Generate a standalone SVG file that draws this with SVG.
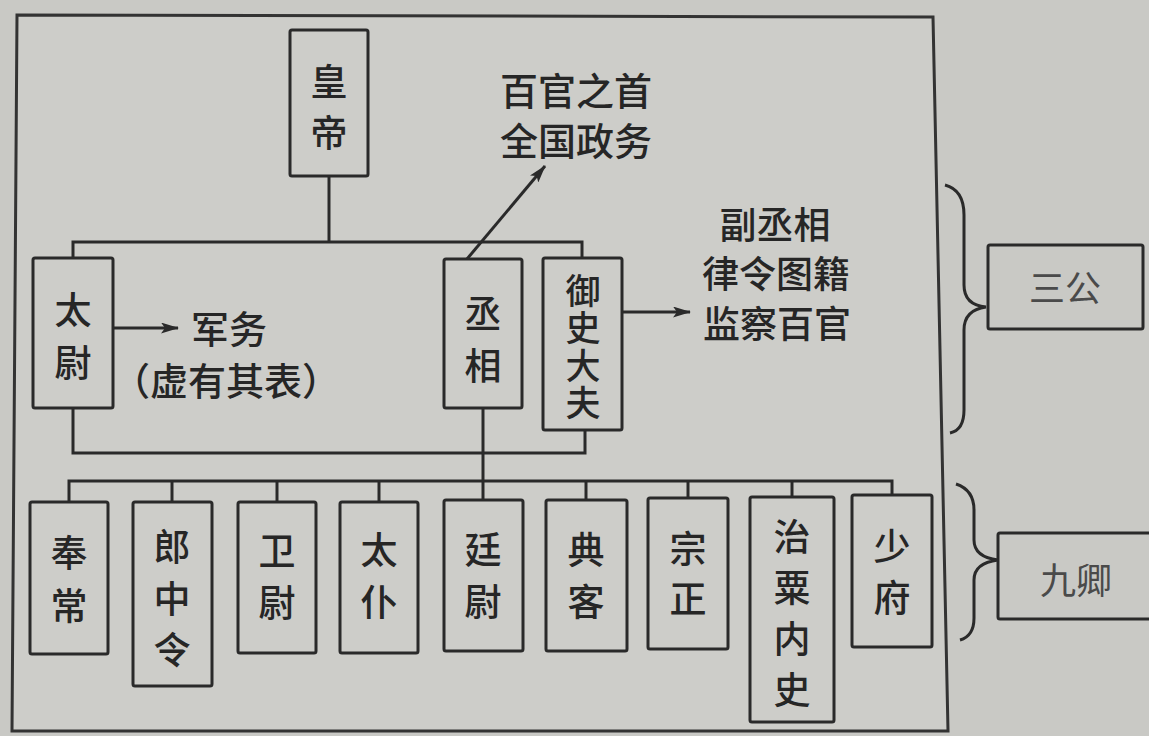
<svg xmlns="http://www.w3.org/2000/svg" width="1149" height="736" viewBox="0 0 1149 736">
<defs>
<style>
.bg{fill:#c9c9c5}
.frame{fill:#cdcdc9;stroke:#333;stroke-width:3}
.box{fill:none;stroke:#2a2a2a;stroke-width:3}
.ln{fill:none;stroke:#2a2a2a;stroke-width:3}
.t{font-family:"Noto Sans CJK SC","Noto Sans CJK JP",sans-serif;font-size:37px;font-weight:500;fill:#262626;text-anchor:middle;dominant-baseline:central}
.tv{font-family:"Noto Sans CJK SC","Noto Sans CJK JP",sans-serif;font-size:35px;font-weight:500;fill:#262626;writing-mode:vertical-rl;letter-spacing:2.5px}
.lbl{font-family:"Noto Sans CJK SC","Noto Sans CJK JP",sans-serif;font-size:38px;font-weight:500;fill:#262626;text-anchor:middle;dominant-baseline:central}
.lbs{font-family:"Noto Sans CJK SC","Noto Sans CJK JP",sans-serif;font-size:37px;font-weight:500;fill:#262626;text-anchor:middle;dominant-baseline:central}
.side{font-family:"Noto Sans CJK SC","Noto Sans CJK JP",sans-serif;font-size:36px;fill:#4a4a4a;text-anchor:middle;dominant-baseline:central}
</style>
<marker id="ah" markerWidth="18" markerHeight="11" refX="17" refY="5.5" orient="auto" markerUnits="userSpaceOnUse">
<path d="M0,0 L18,5.5 L0,11 L4,5.5 Z" fill="#2a2a2a"/>
</marker>
</defs>
<rect class="bg" x="0" y="0" width="1149" height="736"/>
<path class="frame" d="M17,15 L933,17 L948,731 L12,731 Z"/>

<g id="connectors">
<path class="ln" d="M329,176 V242"/>
<path class="ln" d="M73,258 V242 H582 V258"/>
<path class="ln" d="M467,259 L545,166" marker-end="url(#ah)"/>
<path class="ln" d="M622,312 H690" marker-end="url(#ah)"/>
<path class="ln" d="M113,328 H178" marker-end="url(#ah)"/>
<path class="ln" d="M73,408 V453 H585 V430"/>
<path class="ln" d="M483,408 V500"/>
<path class="ln" d="M69,502 V481 H892 V495"/>
<path class="ln" d="M172,481 V502"/>
<path class="ln" d="M277,481 V502"/>
<path class="ln" d="M379,481 V502"/>
<path class="ln" d="M586,481 V500"/>
<path class="ln" d="M688,481 V498"/>
<path class="ln" d="M792,481 V497"/>
<path class="ln" d="M945,185 Q964,190 964,215 V285 Q964,305 986,307 Q964,310 964,330 V410 Q964,430 950,433"/>
<path class="ln" d="M956,484 Q974,490 974,510 V540 Q974,557 998,560 Q974,563 974,580 V618 Q974,636 960,640"/>
</g>

<g id="huangdi"><rect class="box" x="290" y="30" width="78" height="146" rx="2"/>
<text class="t" x="329" y="80">皇</text><text class="t" x="329" y="131">帝</text></g>

<g id="taiwei"><rect class="box" x="33" y="258" width="80" height="150" rx="2"/>
<text class="t" x="73" y="308">太</text><text class="t" x="73" y="361">尉</text></g>

<g id="chengxiang"><rect class="box" x="444" y="259" width="78" height="149" rx="2"/>
<text class="t" x="483" y="312">丞</text><text class="t" x="483" y="364">相</text></g>

<g id="yushidafu"><rect class="box" x="543" y="258" width="79" height="172" rx="2"/>
<text class="tv" x="583" y="273">御史大夫</text></g>

<g id="label-junwu">
<text class="lbl" x="229" y="326">军务</text>
<text class="lbl" x="226" y="378">（虚有其表）</text></g>

<g id="label-baiguan">
<text class="lbl" x="576" y="88">百官之首</text>
<text class="lbl" x="576" y="138">全国政务</text></g>

<g id="label-yushi">
<text class="lbs" x="775" y="223">副丞相</text>
<text class="lbs" x="776" y="272">律令图籍</text>
<text class="lbs" x="777" y="322">监察百官</text></g>

<g id="fengchang"><rect class="box" x="30" y="502" width="78" height="152" rx="2"/>
<text class="t" x="69" y="551">奉</text><text class="t" x="69" y="604">常</text></g>
<g id="langzhongling"><rect class="box" x="133" y="502" width="79" height="184" rx="2"/>
<text class="t" x="172" y="545">郎</text><text class="t" x="172" y="597">中</text><text class="t" x="172" y="648">令</text></g>
<g id="weiwei"><rect class="box" x="238" y="502" width="78" height="151" rx="2"/>
<text class="t" x="277" y="549">卫</text><text class="t" x="277" y="601">尉</text></g>
<g id="taipu"><rect class="box" x="340" y="502" width="78" height="151" rx="2"/>
<text class="t" x="379" y="548">太</text><text class="t" x="379" y="600">仆</text></g>
<g id="tingwei"><rect class="box" x="444" y="500" width="79" height="151" rx="2"/>
<text class="t" x="483" y="548">廷</text><text class="t" x="483" y="600">尉</text></g>
<g id="dianke"><rect class="box" x="546" y="500" width="81" height="151" rx="2"/>
<text class="t" x="586" y="548">典</text><text class="t" x="586" y="600">客</text></g>
<g id="zongzheng"><rect class="box" x="648" y="498" width="80" height="151" rx="2"/>
<text class="t" x="688" y="547">宗</text><text class="t" x="688" y="597">正</text></g>
<g id="zhisuneishi"><rect class="box" x="750" y="497" width="84" height="225" rx="2"/>
<text class="t" x="792" y="535">治</text><text class="t" x="792" y="586">粟</text><text class="t" x="792" y="637">内</text><text class="t" x="792" y="688">史</text></g>
<g id="shaofu"><rect class="box" x="852" y="495" width="80" height="152" rx="2"/>
<text class="t" x="892" y="544">少</text><text class="t" x="892" y="596">府</text></g>

<g id="sangong"><rect class="box" x="988" y="245" width="155" height="84" rx="2"/>
<text class="side" x="1065" y="286">三公</text></g>
<g id="jiuqing"><rect class="box" x="998" y="533" width="160" height="86" rx="2"/>
<text class="side" x="1076" y="578">九卿</text></g>
</svg>
